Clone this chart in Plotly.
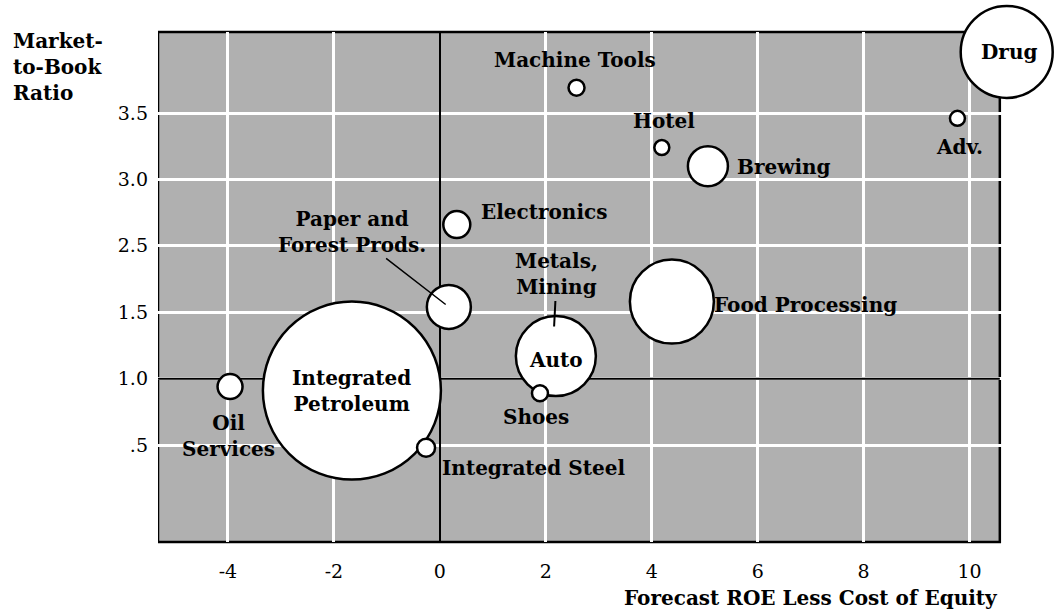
import plotly.graph_objects as go

# Industries (bubble chart). y values are in the chart's evenly spaced axis units
industries = ["Machine Tools", "Hotel", "Brewing", "Drug", "Adv.", "Electronics",
              "Paper and Forest Prods.", "Integrated Petroleum", "Oil Services",
              "Integrated Steel", "Metals, Mining", "Auto", "Shoes", "Food Processing"]
roe_spread = [2.58, 4.19, 5.06, 10.70, 9.77, 0.32, 0.17, -1.66, -3.96, -0.26, 2.15, 2.19, 1.89, 4.38]
market_to_book = [3.69, 3.24, 3.10, 3.96, 3.46, 2.66, 2.04, 1.41, 1.44, 0.98, 1.84, 1.67, 1.39, 2.08]
relative_size = [16, 15, 40, 92, 15, 27, 44, 178, 25, 18, 15, 80, 16, 84]

x_ticks = [-4, -2, 0, 2, 4, 6, 8, 10]
y_tickvals = [1.0, 1.5, 2.0, 2.5, 3.0, 3.5]
y_ticktext = [".5", "1.0", "1.5", "2.5", "3.0", "3.5"]

X_MIN, X_FRAME, X_MAX = -5.32, 10.57, 10.8
Y_MIN, Y_MAX = 0.27, 4.11

FONT = "DejaVu Serif"
LBL = dict(family=FONT, size=20, color="black")

fig = go.Figure()
fig.add_trace(go.Scatter(
    x=roe_spread, y=market_to_book, mode="markers",
    marker=dict(size=relative_size, sizemode="diameter", sizeref=1,
                color="white", opacity=1, line=dict(color="black", width=2.5)),
    cliponaxis=False, hoverinfo="text", text=industries, showlegend=False,
))

# label placement: (text, xshift, yshift, xanchor)
label_opts = {
    "Machine Tools": ("<b>Machine Tools</b>", -2, 28, "center"),
    "Hotel": ("<b>Hotel</b>", 2, 27, "center"),
    "Brewing": ("<b>Brewing</b>", 27, -1, "left"),
    "Drug": ("<b>Drug</b>", 2, 0, "center"),
    "Adv.": ("<b>Adv.</b>", 2, -29, "center"),
    "Electronics": ("<b>Electronics</b>", 22, 13, "left"),
    "Integrated Petroleum": ("<b>Integrated<br>Petroleum</b>", 0, 0, "center"),
    "Oil Services": ("<b>Oil<br>Services</b>", -2, -49, "center"),
    "Integrated Steel": ("<b>Integrated Steel</b>", 14, -20, "left"),
    "Auto": ("<b>Auto</b>", 0, -4, "center"),
    "Shoes": ("<b>Shoes</b>", -4, -24, "center"),
    "Food Processing": ("<b>Food Processing</b>", 40, -3, "left"),
}
for name, xv, yv in zip(industries, roe_spread, market_to_book):
    if name in label_opts:
        t, xs, ys, xa = label_opts[name]
        fig.add_annotation(x=xv, y=yv, text=t, showarrow=False, xshift=xs, yshift=ys,
                           xanchor=xa, font=LBL, align="center")
    elif name == "Paper and Forest Prods.":
        fig.add_annotation(x=xv, y=yv, text="<b>Paper and<br>Forest Prods.</b>", showarrow=True,
                           arrowhead=0, arrowwidth=1.5, arrowcolor="black", ax=-97, ay=-75,
                           standoff=4, font=LBL, align="center")
    elif name == "Metals, Mining":
        fig.add_annotation(x=xv, y=yv, text="<b>Metals,<br>Mining</b>", showarrow=True,
                           arrowhead=0, arrowwidth=2, arrowcolor="black", ax=3, ay=-59,
                           standoff=7, font=LBL, align="center")

# white strip right of the frame (the Drug bubble pokes out of the frame)
fig.add_shape(type="rect", xref="x", x0=X_FRAME, x1=X_MAX + 0.2, yref="paper", y0=-0.01, y1=1.01,
              fillcolor="white", line=dict(width=0), layer="between")
# crosshair at market-to-book 1.0
fig.add_shape(type="line", xref="x", x0=X_MIN, x1=X_FRAME, yref="y", y0=1.5, y1=1.5,
              line=dict(color="black", width=2), layer="between")
# frame
fig.add_shape(type="rect", xref="x", x0=X_MIN, x1=X_FRAME, yref="paper", y0=0, y1=1,
              line=dict(color="black", width=2.5), fillcolor="rgba(0,0,0,0)", layer="between")

fig.add_annotation(xref="paper", yref="paper", x=(X_FRAME - X_MIN) / (X_MAX - X_MIN), y=-0.11,
                   xanchor="right", yanchor="middle",
                   text="<b>Forecast ROE Less Cost of Equity</b>", showarrow=False,
                   font=dict(family=FONT, size=20, color="black"))
fig.add_annotation(xref="paper", yref="paper", x=-0.172, y=1.01, xanchor="left", yanchor="top",
                   text="<b>Market-<br>to-Book<br>Ratio</b>", showarrow=False, align="left",
                   font=dict(family=FONT, size=20, color="black"))

fig.update_layout(
    width=1054, height=614,
    margin=dict(l=158, r=42, t=32, b=72),
    paper_bgcolor="white", plot_bgcolor="#b0b0b0",
    font=dict(family=FONT, size=19, color="black"),
    xaxis=dict(range=[X_MIN, X_MAX], tickvals=x_ticks, ticktext=[str(v) for v in x_ticks],
               showgrid=True, gridcolor="white", gridwidth=2.5,
               zeroline=True, zerolinecolor="black", zerolinewidth=2,
               showline=False, ticks="", ticklabelstandoff=16, layer="below traces"),
    yaxis=dict(range=[Y_MIN, Y_MAX], tickvals=y_tickvals, ticktext=y_ticktext,
               showgrid=True, gridcolor="white", gridwidth=2.5, zeroline=False,
               showline=False, ticks="", ticklabelstandoff=9, layer="below traces"),
)

fig.write_html("out.html", config={"displayModeBar": False},
               post_script="document.body.style.margin='0';document.body.style.overflow='hidden';")
